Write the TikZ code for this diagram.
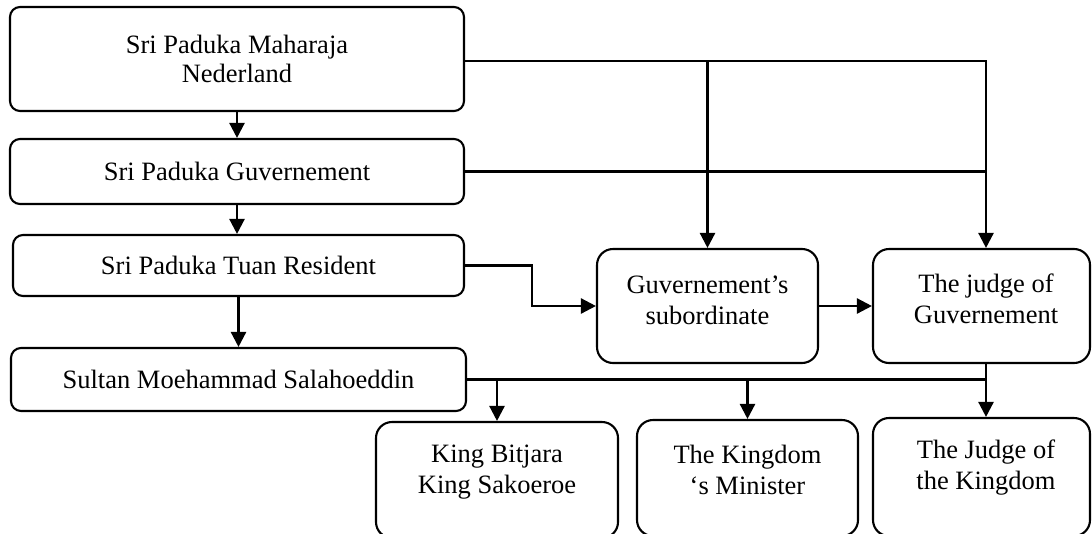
\documentclass[tikz,border=0pt]{standalone}
\usepackage{fontspec}
\setmainfont{Liberation Serif}
\usetikzlibrary{arrows.meta,calc}
\begin{document}
\begin{tikzpicture}[x=1pt,y=-1pt,
  box/.style={draw, line width=2.1pt, rounded corners=10pt, inner sep=0pt, align=center, font=\fontsize{26.5}{29}\selectfont},
  rbox/.style={draw, line width=2.1pt, rounded corners=16pt, inner sep=0pt},
  lbl/.style={align=center, inner sep=0pt, font=\fontsize{26.5}{31}\selectfont},
  conn/.style={line width=2.4pt},
  arr/.style={conn, -{Triangle[length=15pt,width=15pt]}}]
\useasboundingbox (0,0) rectangle (1092,533);
\clip (0,0) rectangle (1092,533);
% left column
\node[box, minimum width=454pt, minimum height=104pt] (b1) at (237,59) {Sri Paduka Maharaja\\Nederland};
\node[box, minimum width=454pt, minimum height=65pt] (b2) at (237,171.5) {Sri Paduka Guvernement};
\node[box, minimum width=451pt, minimum height=61pt] (b3) at (238.5,265.5) {Sri Paduka Tuan Resident};
\node[box, minimum width=455pt, minimum height=63pt] (b4) at (238.5,379.5) {Sultan Moehammad Salahoeddin};
% right boxes
\node[rbox, minimum width=221pt, minimum height=114pt] (b5) at (707.5,306) {};
\node[lbl] (t5) at (707.5,300) {Guvernement’s\\subordinate};
\node[rbox, minimum width=217pt, minimum height=114pt] (b6) at (981.5,306) {};
\node[lbl] (t6) at (986,299) {The judge of\\Guvernement};
% bottom boxes
\node[rbox, minimum width=242pt, minimum height=116pt] (b7) at (497,480) {};
\node[lbl] (t7) at (497,472) {King Bitjara\\King Sakoeroe};
\node[rbox, minimum width=221pt, minimum height=116pt] (b8) at (747.5,478) {};
\node[lbl] (t8) at (747.5,470) {The Kingdom\\‘s Minister};
\node[rbox, minimum width=217pt, minimum height=118pt] (b9) at (981.5,477) {};
\node[lbl] (t9) at (986,468) {The Judge of\\the Kingdom};
% junction column
\coordinate (jR) at (986,61);
% connectors
\draw[arr] (b1.south) -- (b2.north);
\draw[arr] (b2.south) -- (b2.south |- b3.north);
\draw[arr] (b3.south) -- (b3.south |- b4.north);
\draw[arr] (b1.east |- jR) -| (b6.north -| jR);
\draw[arr] (b5.north |- jR) -- (b5.north);
\draw[conn] (b2.east) -- (b2.east -| jR);
\draw[arr] (b3.east) -- ++(67,0) |- (b5.west);
\draw[arr] (b5.east) -- (b6.west);
\draw[arr] (b6.south -| jR) -- (b9.north -| jR);
\draw[conn] (b4.east) -- (b4.east -| jR);
\draw[arr] (b7.north |- b4.east) -- (b7.north);
\draw[arr] (b8.north |- b4.east) -- (b8.north);
\end{tikzpicture}
\end{document}
